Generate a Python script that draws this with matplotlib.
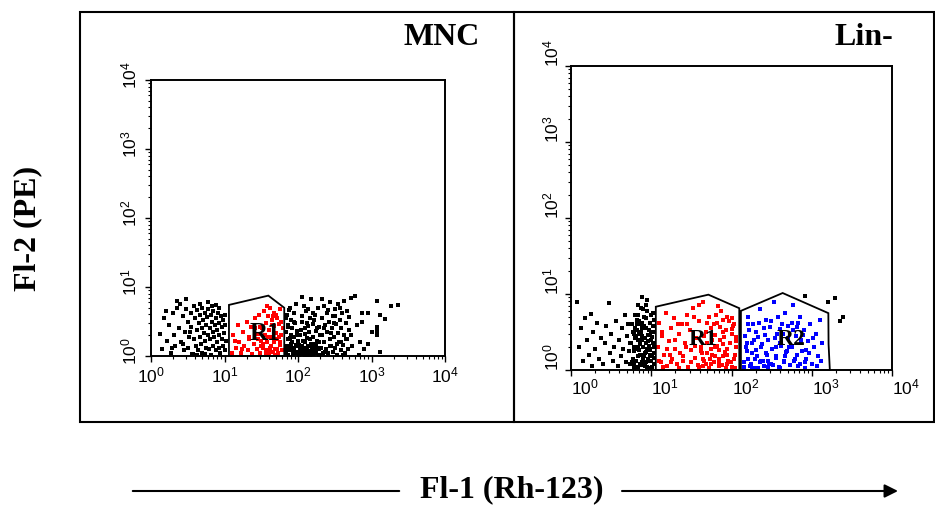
import numpy as np
import matplotlib
matplotlib.use('Agg')
import matplotlib.pyplot as plt
import matplotlib.transforms as mtransforms
from matplotlib.patches import Rectangle, Polygon, FancyArrowPatch
from matplotlib.ticker import LogLocator, NullFormatter

plt.rcParams['mathtext.fontset'] = 'custom'
plt.rcParams['mathtext.rm'] = 'Liberation Sans'
plt.rcParams['mathtext.it'] = 'Liberation Sans'

# ---- data (log10 decades of Fl-1 / Fl-2) ----
# MNC, black events left of R1
mnc_lo_x = [0.12,0.15,0.18,0.22,0.25,0.27,0.3,0.31,0.33,0.36,
            0.38,0.4,0.41,0.43,0.45,0.46,0.48,0.5,0.51,0.52,
            0.54,0.55,0.56,0.58,0.59,0.6,0.61,0.62,0.63,0.64,
            0.65,0.66,0.67,0.68,0.69,0.7,0.7,0.71,0.72,0.73,
            0.74,0.75,0.75,0.76,0.77,0.78,0.79,0.8,0.8,0.81,
            0.82,0.83,0.84,0.85,0.85,0.86,0.87,0.88,0.89,0.9,
            0.9,0.91,0.92,0.93,0.93,0.94,0.95,0.96,0.97,0.98,
            0.98,0.99,1.0,1.01,1.02,0.2,0.35,0.47,0.57,0.66,
            0.74,0.83,0.92,1.0,0.28,0.44,0.53,0.62,0.78,0.88]
mnc_lo_y = [0.32,0.1,0.55,0.22,0.45,0.05,0.62,0.3,0.15,0.7,
            0.4,0.75,0.2,0.58,0.08,0.35,0.68,0.5,0.12,0.27,
            0.62,0.42,0.03,0.72,0.25,0.55,0.15,0.38,0.66,0.08,
            0.48,0.28,0.6,0.18,0.4,0.7,0.05,0.52,0.33,0.63,
            0.22,0.45,0.12,0.57,0.3,0.68,0.1,0.4,0.25,0.6,
            0.02,0.5,0.35,0.15,0.65,0.28,0.45,0.08,0.55,0.2,
            0.38,0.62,0.12,0.3,0.48,0.05,0.58,0.25,0.42,0.15,
            0.52,0.33,0.08,0.45,0.22,0.65,0.8,0.82,0.03,0.75,
            0.03,0.72,0.7,0.6,0.12,0.18,0.35,0.02,0.78,0.74]

# MNC, red events inside R1
mnc_r1_x = [1.1,1.12,1.15,1.18,1.2,1.22,1.25,1.27,1.3,1.32,
            1.34,1.36,1.38,1.4,1.42,1.44,1.45,1.47,1.48,1.5,
            1.51,1.52,1.54,1.55,1.56,1.57,1.58,1.59,1.6,1.61,
            1.62,1.63,1.64,1.65,1.66,1.67,1.68,1.69,1.7,1.71,
            1.72,1.73,1.74,1.75,1.76,1.77,1.78,1.79,1.62,1.68,
            1.74,1.56,1.48,1.66,1.72,1.59,1.77,1.53,1.7,1.64,
            1.14,1.24,1.33,1.41,1.5,1.58,1.76,1.69,1.6,1.45]
mnc_r1_y = [0.05,0.3,0.12,0.45,0.2,0.04,0.35,0.15,0.5,0.08,
            0.25,0.42,0.03,0.18,0.55,0.1,0.32,0.6,0.05,0.22,
            0.4,0.12,0.65,0.3,0.08,0.48,0.2,0.58,0.02,0.38,
            0.7,0.15,0.28,0.52,0.06,0.44,0.62,0.1,0.34,0.24,
            0.55,0.04,0.46,0.16,0.68,0.3,0.08,0.4,0.12,0.2,
            0.28,0.05,0.42,0.58,0.1,0.27,0.5,0.18,0.6,0.45,
            0.22,0.1,0.28,0.4,0.15,0.72,0.2,0.02,0.06,0.25]

# MNC, black events right of R1 (bright population + tail)
mnc_hi_x = [1.83,1.84,1.85,1.85,1.86,1.87,1.87,1.88,1.89,1.9,
            1.9,1.91,1.92,1.92,1.93,1.94,1.95,1.95,1.96,1.97,
            1.97,1.98,1.99,2.0,1.84,1.86,1.88,1.9,1.93,1.96,
            1.98,1.85,1.89,1.94,1.99,
            2.01,2.02,2.03,2.03,2.04,2.05,2.05,2.06,2.07,2.07,
            2.08,2.09,2.1,2.1,2.11,2.12,2.12,2.13,2.14,2.15,
            2.15,2.16,2.17,2.18,2.18,2.19,2.2,2.21,2.21,2.22,
            2.23,2.24,2.24,2.25,2.26,2.27,2.27,2.28,2.29,2.3,
            2.02,2.04,2.06,2.08,2.1,2.12,2.14,2.16,2.19,2.22,
            2.25,2.28,2.05,2.09,2.13,2.17,2.2,2.23,2.26,2.29,
            2.31,2.32,2.33,2.34,2.35,2.36,2.37,2.38,2.39,2.4,
            2.41,2.42,2.43,2.44,2.45,2.46,2.47,2.48,2.49,2.5,
            2.51,2.52,2.53,2.54,2.55,2.56,2.57,2.58,2.59,2.6,
            2.61,2.62,2.63,2.64,2.65,2.66,2.67,2.68,2.69,2.7,
            2.72,2.74,2.33,2.37,2.41,2.45,2.49,2.53,2.57,2.61,
            2.65,2.35,2.43,2.51,2.59,
            2.78,2.72,2.8,2.85,2.87,2.87,2.9,2.95,2.95,3.0,
            3.07,3.07,3.07,3.07,3.12,3.12,3.18,3.27,3.36,2.83]
mnc_hi_y = [0.05,0.35,0.15,0.6,0.25,0.02,0.45,0.12,0.7,0.3,
            0.08,0.52,0.2,0.4,0.03,0.62,0.1,0.28,0.48,0.16,
            0.75,0.06,0.36,0.22,0.55,0.42,0.66,0.18,0.12,0.04,
            0.3,0.09,0.26,0.5,0.14,
            0.04,0.02,0.1,0.3,0.06,0.15,0.5,0.03,0.08,0.22,
            0.12,0.02,0.05,0.4,0.65,0.09,0.26,0.04,0.14,0.02,
            0.35,0.07,0.55,0.18,0.82,0.11,0.03,0.28,0.46,0.08,
            0.6,0.15,0.36,0.05,0.22,0.7,0.12,0.42,0.02,0.3,
            0.16,0.38,0.58,0.72,0.2,0.48,0.68,0.25,0.06,0.52,
            0.1,0.2,0.86,0.32,0.44,0.02,0.62,0.18,0.4,0.1,
            0.12,0.55,0.3,0.05,0.72,0.2,0.45,0.1,0.62,0.35,
            0.04,0.5,0.25,0.78,0.15,0.4,0.06,0.58,0.28,0.68,
            0.12,0.46,0.02,0.34,0.75,0.2,0.52,0.08,0.4,0.62,
            0.16,0.3,0.8,0.05,0.48,0.24,0.65,0.1,0.38,0.56,
            0.3,0.14,0.82,0.06,0.66,0.33,0.48,0.18,0.7,0.02,
            0.25,0.4,0.14,0.58,0.2,
            0.87,0.84,0.45,0.2,0.49,0.63,0.1,0.62,0.17,0.35,
            0.79,0.42,0.36,0.3,0.6,0.06,0.53,0.72,0.74,0.02]

# Lin-, black events left of R1
lin_lo_x = [0.07,0.1,0.12,0.15,0.18,0.2,0.22,0.25,0.26,0.28,
            0.3,0.32,0.35,0.37,0.4,0.42,0.44,0.47,0.48,0.5,
            0.52,0.54,0.56,0.58,0.6,0.62,0.63,0.65,0.67,0.68,
            0.7,0.71,0.72,0.73,0.74,
            0.75,0.76,0.77,0.78,0.79,0.8,0.81,0.82,0.83,0.84,
            0.85,0.86,0.87,0.88,0.89,0.9,0.91,0.92,0.93,0.94,
            0.95,0.96,0.97,0.98,0.99,1.0,1.01,1.02,1.03,1.04,
            0.76,0.78,0.8,0.82,0.84,0.86,0.88,0.9,0.92,0.94,
            0.96,0.98,1.0,1.02,1.04,0.77,0.79,0.81,0.83,0.85,
            0.87,0.89,0.91,0.93,0.95,0.97,0.99,1.01,1.03,0.88,
            0.8,0.83,0.86,0.89,0.92,0.95,0.98,1.01,1.04,0.78,
            0.82,0.85,0.88,0.91,0.94,0.97,1.0,1.03,0.84,0.87,
            0.9,0.93,0.96,0.99,1.02,0.81,0.9,0.95,1.0,0.86]
lin_lo_y = [0.89,0.3,0.55,0.12,0.68,0.4,0.2,0.74,0.05,0.5,
            0.28,0.62,0.15,0.42,0.08,0.35,0.58,0.88,0.22,0.47,
            0.12,0.3,0.65,0.05,0.4,0.18,0.55,0.28,0.72,0.1,
            0.45,0.6,0.25,0.36,0.08,
            0.35,0.6,0.15,0.48,0.08,0.72,0.28,0.52,0.04,0.4,
            0.65,0.2,0.82,0.1,0.45,0.3,0.7,0.05,0.55,0.24,
            0.92,0.38,0.12,0.62,0.02,0.5,0.18,0.75,0.3,0.08,
            0.1,0.25,0.42,0.6,0.18,0.34,0.55,0.06,0.42,0.68,
            0.14,0.28,0.4,0.58,0.22,0.5,0.3,0.12,0.72,0.26,
            0.06,0.62,0.18,0.36,0.04,0.52,0.26,0.44,0.66,0.96,
            0.55,0.3,0.08,0.4,0.22,0.78,0.46,0.04,0.5,0.02,
            0.66,0.48,0.2,0.58,0.1,0.32,0.72,0.16,0.85,0.5,
            0.14,0.85,0.46,0.2,0.36,0.45,0.8,0.28,0.12,0.6]

# Lin-, red events inside R1
lin_r1_x = [1.08,1.1,1.12,1.14,1.16,1.18,1.2,1.22,1.24,1.26,
            1.28,1.3,1.32,1.34,1.36,1.38,1.4,1.42,1.44,1.46,
            1.48,1.5,1.52,1.54,1.56,1.58,1.6,1.62,1.64,1.66,
            1.68,1.7,1.72,1.74,1.76,1.78,1.8,1.82,1.84,1.86,
            1.6,1.62,1.64,1.66,1.68,1.7,1.72,1.74,1.76,1.78,
            1.8,1.82,1.84,1.86,1.88,1.9,1.92,1.94,1.96,1.98,
            2.0,2.02,2.04,2.06,1.87,1.89,1.91,1.93,1.95,1.97,
            1.99,2.01,2.03,2.05,1.81,1.85,1.9,1.95,2.0,2.04,
            1.1,1.15,1.2,1.25,1.3,1.35,1.4,1.45,1.5,1.55,
            1.6,1.65,1.7,1.75,1.8,1.85,1.9,1.95,2.0,2.05,
            1.13,1.23,1.33,1.43,1.53,1.63,1.73,1.83,1.93,2.03]
lin_r1_y = [0.3,0.62,0.1,0.45,0.2,0.75,0.05,0.38,0.55,0.15,
            0.68,0.28,0.08,0.48,0.22,0.6,0.12,0.36,0.72,0.04,
            0.52,0.26,0.82,0.16,0.42,0.06,0.64,0.3,0.9,0.12,
            0.5,0.22,0.7,0.08,0.4,0.6,0.18,0.32,0.05,0.56,
            0.04,0.25,0.15,0.45,0.08,0.35,0.02,0.55,0.2,0.1,
            0.3,0.62,0.14,0.4,0.06,0.5,0.24,0.7,0.12,0.36,
            0.04,0.58,0.2,0.3,0.78,0.18,0.44,0.02,0.28,0.64,
            0.1,0.48,0.14,0.38,0.72,0.26,0.66,0.08,0.54,0.02,
            0.12,0.04,0.28,0.1,0.4,0.03,0.18,0.6,0.1,0.32,
            0.85,0.05,0.62,0.28,0.46,0.1,0.34,0.2,0.68,0.44,
            0.5,0.2,0.6,0.3,0.7,0.22,0.14,0.84,0.52,0.6]

# Lin-, blue events inside R2
lin_r2_x = [2.15,2.17,2.19,2.21,2.23,2.25,2.27,2.29,2.31,2.33,
            2.35,2.37,2.39,2.41,2.43,2.45,2.47,2.49,2.51,2.53,
            2.55,2.57,2.59,2.61,2.63,2.65,2.67,2.69,2.71,2.73,
            2.75,2.77,2.79,2.81,2.83,2.85,2.87,2.89,2.91,2.93,
            2.16,2.18,2.2,2.22,2.24,2.26,2.28,2.3,2.32,2.34,
            2.36,2.38,2.4,2.42,2.44,2.46,2.48,2.5,2.52,2.54,
            2.56,2.58,2.6,2.62,2.64,2.66,2.68,2.7,2.19,2.25,
            2.31,2.37,2.43,2.49,2.55,2.61,2.67,2.21,2.33,2.45,
            2.72,2.75,2.78,2.8,2.83,2.85,2.88,2.9,2.93,2.95,
            2.98,3.0,3.03,3.05,3.08,3.1,3.13,2.77,2.86,2.96,
            3.06,2.82,2.92,3.02,3.12]
lin_r2_y = [0.1,0.45,0.25,0.7,0.05,0.35,0.6,0.15,0.5,0.02,
            0.8,0.3,0.12,0.55,0.22,0.4,0.08,0.65,0.28,0.9,
            0.18,0.48,0.04,0.35,0.6,0.12,0.75,0.25,0.42,0.06,
            0.3,0.52,0.14,0.2,0.62,0.08,0.38,0.46,0.1,0.26,
            0.04,0.3,0.14,0.52,0.08,0.22,0.4,0.02,0.18,0.62,
            0.1,0.34,0.05,0.46,0.2,0.12,0.56,0.28,0.06,0.42,
            0.16,0.7,0.02,0.32,0.48,0.1,0.24,0.58,0.36,0.02,
            0.26,0.12,0.66,0.08,0.3,0.54,0.18,0.6,0.44,0.04,
            0.3,0.62,0.12,0.45,0.05,0.7,0.25,0.52,0.15,0.38,
            0.6,0.08,0.3,0.48,0.18,0.66,0.35,0.85,0.4,0.22,
            0.05,0.56,0.02,0.42,0.12]

# Lin-, black events right of R2
lin_hi_x = [2.92, 3.29, 3.2, 3.35, 3.39]
lin_hi_y = [0.98, 0.95, 0.89, 0.65, 0.7]

# gates (linear fluorescence units)
mnc_gate_r1_x = [11.5, 11.5, 39.5, 65, 65]
mnc_gate_r1_y = [1, 5.5, 7.5, 5.0, 1]
lin_gate_r1_x = [11.4, 11.4, 51.5, 125, 125]
lin_gate_r1_y = [1, 6.8, 9.8, 6.5, 1]
lin_gate_r2_x = [131, 131, 434, 1610, 1620, 1680]
lin_gate_r2_y = [1, 6.0, 10.3, 5.6, 2.2, 1]

decades = [1, 10, 100, 1000, 10000]
decade_labels = [r'$10^{0}$', r'$10^{1}$', r'$10^{2}$', r'$10^{3}$', r'$10^{4}$']

W, H = 935, 506
fig = plt.figure(figsize=(W / 100, H / 100), dpi=100)


def px_axes(x0, y0, x1, y1):
    return fig.add_axes([x0 / W, 1 - y1 / H, (x1 - x0) / W, (y1 - y0) / H])


def setup(ax):
    ax.set_xscale('log')
    ax.set_yscale('log')
    ax.set_xlim(1, 1e4)
    ax.set_ylim(1, 1e4)
    ax.set_xticks(decades)
    ax.set_yticks(decades)
    ax.set_xticklabels(decade_labels, fontsize=12.5)
    ax.set_yticklabels(decade_labels, fontsize=12.5, rotation=90)
    for axis in (ax.xaxis, ax.yaxis):
        axis.set_minor_locator(LogLocator(base=10, subs=range(2, 10)))
        axis.set_minor_formatter(NullFormatter())
    ax.tick_params(which='major', direction='out', length=4.5, width=1.0)
    ax.tick_params(which='minor', direction='out', length=2.5, width=0.8)
    for sp in ax.spines.values():
        sp.set_linewidth(1.4)


def dots(ax, xs, ys, color):
    ax.scatter(10 ** np.array(xs), 10 ** np.array(ys), s=5, marker='s',
               c=color, linewidths=0, zorder=2)


def gate(ax, xs, ys):
    ax.add_patch(Polygon(np.column_stack([xs, ys]), closed=True, fill=False,
                         edgecolor='black', lw=1.3, zorder=3, clip_on=False))


# left panel: MNC
ax1 = px_axes(151, 81, 445, 357)
setup(ax1)
ax1.tick_params(axis='x', pad=2)
ax1.tick_params(axis='y', pad=3)
shift = mtransforms.ScaledTranslation(0, 6 / 100, fig.dpi_scale_trans)
for lab in ax1.get_yticklabels():
    lab.set_va('center')
    lab.set_transform(lab.get_transform() + shift)
dots(ax1, mnc_lo_x, mnc_lo_y, 'black')
dots(ax1, mnc_hi_x, mnc_hi_y, 'black')
dots(ax1, mnc_r1_x, mnc_r1_y, 'red')
gate(ax1, mnc_gate_r1_x, mnc_gate_r1_y)
ax1.text(35, 2.2, 'R1', fontsize=18, fontweight='bold', family='Liberation Serif',
         ha='center', va='center', zorder=4)

# right panel: Lin-
ax2 = px_axes(571, 67, 892, 371)
setup(ax2)
ax2.tick_params(axis='x', pad=1)
ax2.tick_params(axis='y', pad=1.5)
for lab in ax2.get_xticklabels():
    lab.set_ha('left')
for lab in ax2.get_yticklabels():
    lab.set_va('bottom')
dots(ax2, lin_lo_x, lin_lo_y, 'black')
dots(ax2, lin_hi_x, lin_hi_y, 'black')
dots(ax2, lin_r1_x, lin_r1_y, 'red')
dots(ax2, lin_r2_x, lin_r2_y, 'blue')
gate(ax2, lin_gate_r1_x, lin_gate_r1_y)
gate(ax2, lin_gate_r2_x, lin_gate_r2_y)
ax2.text(44, 2.56, 'R1', fontsize=17, fontweight='bold', family='Liberation Serif',
         ha='center', va='center', zorder=4)
ax2.text(560, 2.56, 'R2', fontsize=17, fontweight='bold', family='Liberation Serif',
         ha='center', va='center', zorder=4)

# panel frames
for x0, x1 in [(80, 514), (514, 934)]:
    fig.add_artist(Rectangle((x0 / W, 1 - 423 / H), (x1 - x0) / W, 410 / H,
                             transform=fig.transFigure, fill=False,
                             edgecolor='black', lw=1.5))

serif = dict(family='Liberation Serif', fontweight='bold', fontsize=23)
fig.text(480 / W, 1 - 45 / H, 'MNC', ha='right', va='baseline', **serif)
fig.text(893 / W, 1 - 45 / H, 'Lin-', ha='right', va='baseline', **serif)
fig.text(28 / W, 1 - 228 / H, 'Fl-2 (PE)', rotation=90, ha='center', va='center', **serif)
fig.text(512 / W, 1 - 490 / H, 'Fl-1 (Rh-123)', ha='center', va='center', **serif)

# axis arrow under the panels
fig.add_artist(FancyArrowPatch((130 / W, 1 - 492 / H), (402 / W, 1 - 492 / H),
                               transform=fig.transFigure, arrowstyle='-',
                               lw=1.5, color='black'))
fig.add_artist(FancyArrowPatch((622 / W, 1 - 492 / H), (898 / W, 1 - 492 / H),
                               transform=fig.transFigure, arrowstyle='-|>',
                               mutation_scale=20, lw=1.5, color='black',
                               shrinkA=0, shrinkB=0))

fig.savefig('out.png', dpi=100)
